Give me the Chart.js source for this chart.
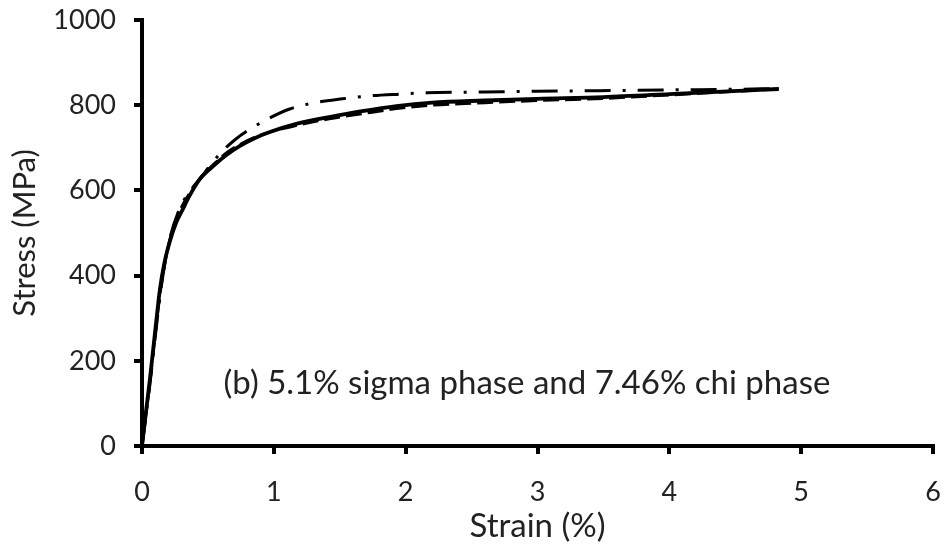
<!DOCTYPE html>
<html>
<head>
<meta charset="utf-8">
<script src="https://cdn.jsdelivr.net/npm/chart.js@4/dist/chart.umd.min.js"></script>
<style>
  html, body { margin: 0; padding: 0; background: #fff; }
  #wrap { width: 946px; height: 550px; }
</style>
</head>
<body>
<div id="wrap"><canvas id="chart"></canvas></div>
<script>
// stress-strain curves
const solidStrain = [0, 0.03, 0.06, 0.1, 0.136, 0.17, 0.21, 0.26, 0.31, 0.36, 0.44, 0.54, 0.64, 0.74, 0.85, 0.97, 1.17, 1.42, 1.67, 1.93, 2.2, 2.6, 3.0, 3.5, 4.0, 4.4, 4.83];
const solidStress = [0, 80, 157, 270, 368, 430, 479, 525, 556, 587, 627, 657, 683, 704, 722, 737, 756, 772, 786, 798, 806, 811, 815, 819, 826, 832, 838];

const dashStrain = [0, 0.03, 0.06, 0.1, 0.14, 0.18, 0.22, 0.27, 0.32, 0.38, 0.45, 0.55, 0.65, 0.75, 0.86, 0.98, 1.18, 1.42, 1.67, 1.93, 2.2, 2.6, 3.0, 3.5, 4.0, 4.4, 4.83];
const dashStress = [0, 75, 150, 262, 365, 440, 495, 540, 572, 602, 632, 663, 690, 709, 725, 738, 753, 768, 780, 792, 800, 806, 811, 816, 824, 831, 838];

const dotStrain = [0, 0.03, 0.06, 0.1, 0.14, 0.18, 0.22, 0.27, 0.32, 0.38, 0.44, 0.52, 0.61, 0.71, 0.82, 0.95, 1.12, 1.33, 1.52, 1.73, 1.95, 2.16, 2.6, 3.0, 3.47, 4.0, 4.4, 4.83];
const dotStress = [0, 70, 145, 255, 360, 440, 498, 545, 578, 605, 627, 660, 692, 720, 744, 767, 791, 807, 815, 822, 826, 829, 831, 833, 834, 836, 837, 839];

const noteText = "(b) 5.1% sigma phase and 7.46% chi phase";
const noteAt = { x: 2.92, y: 148 };

const FONT = "Lato, 'Open Sans', sans-serif";
const INK = "#222";

function pts(xs, ys) {
  return xs.map((x, i) => ({ x: x, y: ys[i] }));
}

// draws the caption inside the plot
const notePlugin = {
  id: "note",
  afterDatasetsDraw(chart) {
    const ctx = chart.ctx;
    const x = chart.scales.x.getPixelForValue(noteAt.x);
    const y = chart.scales.y.getPixelForValue(noteAt.y);
    ctx.save();
    ctx.font = "33px " + FONT;
    ctx.fillStyle = INK;
    ctx.textBaseline = "middle";
    ctx.textAlign = "center";
    ctx.fillText(noteText, x, y);
    ctx.restore();
  }
};

const line = (data, dash, width) => ({
  data: data,
  borderColor: "#000",
  borderWidth: width,
  borderDash: dash,
  pointRadius: 0,
  showLine: true,
  fill: false,
  cubicInterpolationMode: "monotone"
});

new Chart(document.getElementById("chart"), {
  type: "scatter",
  data: {
    datasets: [
      line(pts(dashStrain, dashStress), [16, 6], 3),
      line(pts(dotStrain, dotStress), [26, 12, 3, 12], 3),
      line(pts(solidStrain, solidStress), [], 3.8)
    ]
  },
  options: {
    responsive: true,
    maintainAspectRatio: false,
    animation: false,
    layout: { padding: { top: 20, right: 13, left: 0, bottom: 0 } },
    plugins: { legend: { display: false }, tooltip: { enabled: false } },
    scales: {
      x: {
        type: "linear",
        min: 0, max: 6,
        ticks: { stepSize: 1, color: INK, font: { family: FONT, size: 27 }, padding: 22, maxRotation: 0 },
        grid: { drawOnChartArea: false, color: "#000", lineWidth: 4, tickLength: 8 },
        border: { color: "#000", width: 4 },
        title: { display: true, text: "Strain (%)", color: INK, font: { family: FONT, size: 33 }, padding: { top: 0 } },
        afterFit(scale) {
          scale.height = 104;
          scale.paddingLeft = 0;
          scale.paddingRight = 0;
        }
      },
      y: {
        min: 0, max: 1000,
        ticks: { stepSize: 200, color: INK, font: { family: FONT, size: 27 }, padding: 18, callback: (v) => String(v) },
        grid: { drawOnChartArea: false, color: "#000", lineWidth: 4, tickLength: 8 },
        border: { color: "#000", width: 4 },
        title: { display: true, text: "Stress (MPa)", color: INK, font: { family: FONT, size: 31 }, padding: { top: 6, bottom: 0 } },
        afterFit(scale) {
          scale.width = 142;
          scale.paddingTop = 0;
          scale.paddingBottom = 0;
        }
      }
    }
  },
  plugins: [notePlugin]
});
</script>
</body>
</html>
